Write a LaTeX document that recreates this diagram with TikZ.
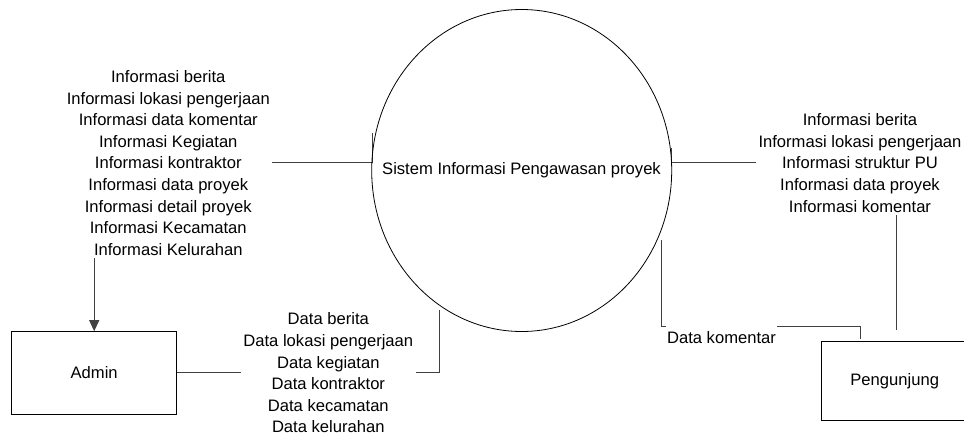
\documentclass[tikz,border=0pt]{standalone}
\usepackage{fontspec}
\setmainfont{Liberation Sans}
\usetikzlibrary{shapes.geometric,arrows.meta}
\pgfdeclarelayer{background}
\pgfsetlayers{background,main}
\begin{document}
\begin{tikzpicture}[x=1pt,y=-1pt,
  every node/.style={font=\fontsize{16.6pt}{21.6pt}\selectfont},
  entity/.style={draw, rectangle, line width=0.9pt, inner sep=0pt},
  process/.style={draw, ellipse, line width=0.8pt, minimum width=300pt, minimum height=322pt, inner sep=0pt},
  flowtext/.style={fill=white, align=center, inner sep=2.5pt},
  flow/.style={draw=black!75, line width=1pt},
  flowarrow/.style={flow, -{Triangle[width=10pt,length=11pt]}},
]
\useasboundingbox (0,0) rectangle (964,436);

% process and external entities
\node[process] (sys) at (521.7,170.5) {};
\node (sysname) at (521.5,170.5) {Sistem Informasi Pengawasan proyek};
\node[entity, minimum width=165pt, minimum height=82.3pt] (admin) at (94.2,372.8) {Admin};
\node[entity, minimum width=146pt, minimum height=78.3pt] (peng) at (894.7,380.8) {Pengunjung};

% data flow labels
\node[flowtext] (lblL) at (168.3,163) {Informasi berita\\Informasi lokasi pengerjaan\\Informasi data komentar\\Informasi Kegiatan\\Informasi kontraktor\\Informasi data proyek\\Informasi detail proyek\\Informasi Kecamatan\\Informasi Kelurahan};
\node[flowtext] (lblR) at (860,163) {Informasi berita\\Informasi lokasi pengerjaan\\Informasi struktur PU\\Informasi data proyek\\Informasi komentar};
\node[flowtext] (lblB) at (328.3,373) {Data berita\\Data lokasi pengerjaan\\Data kegiatan\\Data kontraktor\\Data kecamatan\\Data kelurahan};
\node[flowtext, anchor=base, text height=18pt, text depth=0pt, inner xsep=1pt, inner ysep=1pt] (lblK) at (721.5,343) {Data komentar};

% connector ends at the process and at Pengunjung
\coordinate (tickL) at (372,133);
\coordinate (tickR) at (671.7,148);
\coordinate (tickB) at (439.5,310);
\coordinate (tickK) at (661.7,240);
\coordinate (visIn) at (896.7,330);
\coordinate (komIn) at (860.7,339.3);

% data flows, drawn beneath the labels
\begin{pgfonlayer}{background}
\draw[flowarrow] (tickL) -- ++(0,29.7) -| (admin.north);
\draw[flow] (admin.east) -| (tickB);
\draw[flow] (tickR) -- ++(0,14.7) -| (visIn);
\draw[flow] (tickK) -- ++(0,86) -| (komIn);
\end{pgfonlayer}
\end{tikzpicture}
\end{document}
